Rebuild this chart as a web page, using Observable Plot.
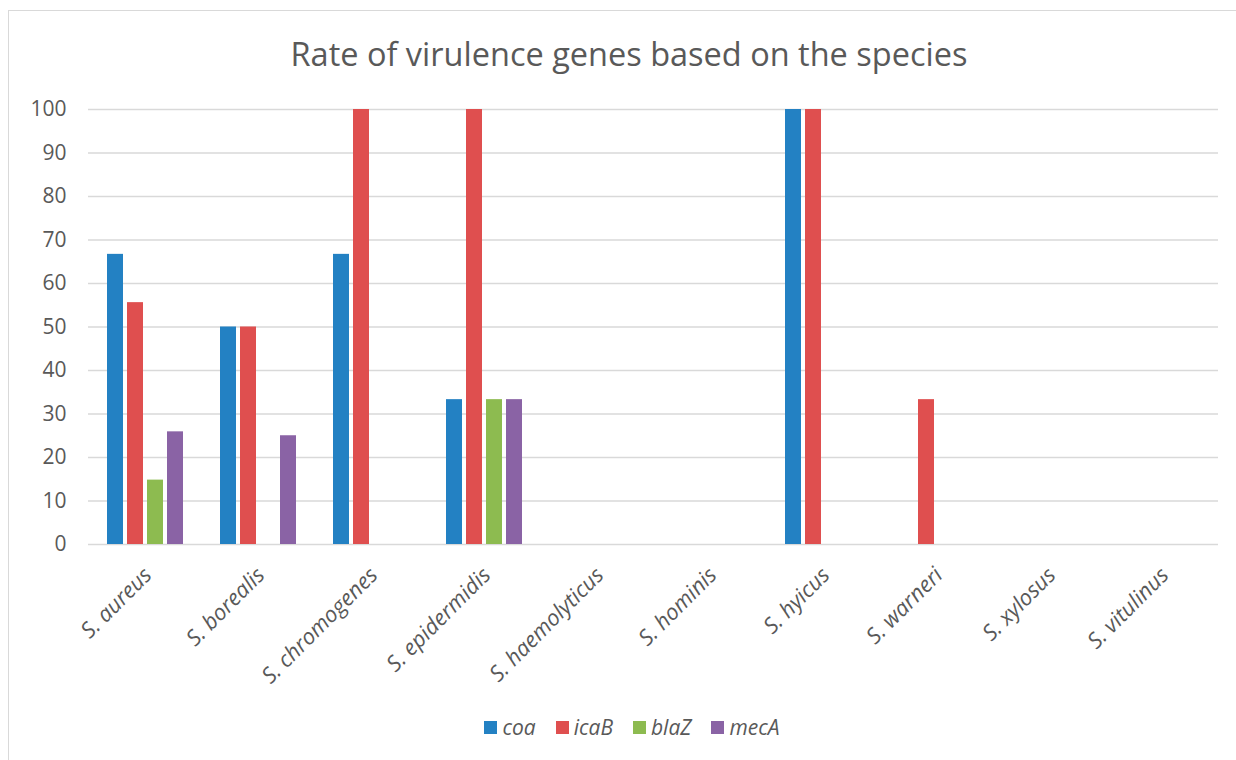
<!DOCTYPE html>
<html><head><meta charset="utf-8">
<script src="https://cdn.jsdelivr.net/npm/d3@7"></script>
<script src="https://cdn.jsdelivr.net/npm/@observablehq/plot@0.6"></script>
<style>
body{margin:0;background:#fff;font-family:"Open Sans",sans-serif;width:1236px;height:760px;overflow:hidden;position:relative;}
#frame{position:absolute;left:8px;top:10px;width:1240px;height:760px;border:1px solid #d9d9d9;box-sizing:border-box;}
#title{position:absolute;left:0;top:34px;width:1258px;text-align:center;font-size:32.5px;color:#595959;line-height:40px;}
#chart{position:absolute;left:0;top:90px;}
#legend{position:absolute;left:0;top:713px;width:1264px;display:flex;justify-content:center;gap:20px;font-size:21px;font-style:italic;color:#595959;line-height:28px;}
#legend .item{display:flex;align-items:center;gap:5px;}
#legend .sw{width:13px;height:13px;display:inline-block;}
</style></head>
<body>
<div id="frame"></div>
<div id="title">Rate of virulence genes based on the species</div>
<div id="chart"></div>
<div id="legend"></div>
<script>
const species = ["S. aureus","S. borealis","S. chromogenes","S. epidermidis","S. haemolyticus","S. hominis","S. hyicus","S. warneri","S. xylosus","S. vitulinus"];
const genes = ["coa","icaB","blaZ","mecA"];
const coa  = [66.7, 50, 66.7, 33.3, 0, 0, 100, 0, 0, 0];
const icaB = [55.6, 50, 100, 100, 0, 0, 100, 33.3, 0, 0];
const blaZ = [14.8, 0, 0, 33.3, 0, 0, 0, 0, 0, 0];
const mecA = [25.9, 25, 0, 33.3, 0, 0, 0, 0, 0, 0];
const colors = ["#2381C3","#DF4F4F","#8DBB50","#8A63A5"];
const yTicks = [0,10,20,30,40,50,60,70,80,90,100];

const series = [coa, icaB, blaZ, mecA];
const rows = species.flatMap((s,i)=>genes.map((g,j)=>({species:s, gene:g, value:series[j][i]})));

const chart = Plot.plot({
  width:1236, height:600,
  marginTop:19, marginBottom:146, marginLeft:85, marginRight:16,
  style:{fontFamily:"'Open Sans',sans-serif", background:"transparent"},
  fx:{domain:species, padding:0, label:null},
  x:{domain:genes, paddingInner:0.22, paddingOuter:0.9, axis:null},
  y:{domain:[0,100], axis:null},
  color:{domain:genes, range:colors},
  marks:[
    Plot.gridY(yTicks,{stroke:"#d9d9d9", strokeOpacity:1, strokeWidth:1.4}),
    Plot.barY(rows,{fx:"species", x:"gene", y:"value", fill:"gene"}),
    Plot.axisY(yTicks,{tickSize:0, tickPadding:22, fontSize:21, fill:"#595959", label:null}),
    Plot.axisFx({anchor:"bottom", tickRotate:-45, tickSize:0, tickPadding:27, dx:3, fontSize:22, fontStyle:"italic", fill:"#595959", label:null})
  ]
});
document.getElementById("chart").appendChild(chart);

const legend = d3.select("#legend");
genes.forEach((g,i)=>{
  const it = legend.append("div").attr("class","item");
  it.append("span").attr("class","sw").style("background",colors[i]);
  it.append("span").text(g);
});
</script>
</body></html>
